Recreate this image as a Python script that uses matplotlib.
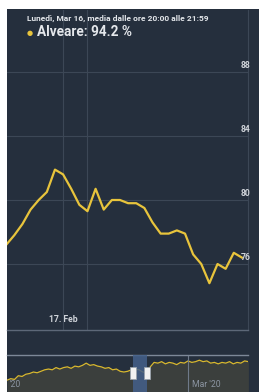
import pandas as pd
import matplotlib
matplotlib.use('Agg')
import matplotlib.pyplot as plt
import matplotlib.dates as mdates
import matplotlib.transforms as mtrans
from matplotlib.patches import Rectangle

# main chart: 2-hour averages, 16 Feb 10:00 -> 18 Feb 20:00
main_start = '2020-02-16 10:00'
main_vals = [77.2, 77.8, 78.5, 79.4, 80.0, 80.5, 81.9, 81.6, 80.7, 79.7,
             79.3, 80.7, 79.4, 80.0, 80.0, 79.8, 79.8, 79.5, 78.6, 77.9,
             77.9, 78.1, 77.9, 76.6, 76.0, 74.8, 76.0, 75.7, 76.7, 76.4]
y_ticks = [76, 80, 84, 88]
x_tick_label = '17. Feb'

# navigator: daily values from 13 Jan
nav_start = '2020-01-13'
nav_vals = [66, 68, 67, 72, 71, 74, 75, 77, 76, 78, 80, 81, 80, 83, 81, 83,
            84, 82, 85, 84, 86, 89, 86, 87, 85, 84, 82, 83, 80, 81, 78, 77,
            78, 80, 81, 80, 77, 76, 84, 90, 89, 91, 88, 90, 89, 87, 90, 89,
            92, 90, 91, 93, 91, 92, 89, 90, 88, 90, 89, 91, 88, 90, 89, 92, 91]

header = 'Lunedì, Mar 16, media dalle ore 20:00 alle 21:59'
series_label = 'Alveare: 94.2 %'

bg = '#252f3d'
grid_c = '#3c4756'
yellow = '#e8c43c'
txt = '#e4e7eb'

plt.rcParams['font.family'] = ['Roboto', 'DejaVu Sans']

main_t = pd.date_range(main_start, periods=len(main_vals), freq='2h')
nav_t = pd.date_range(nav_start, periods=len(nav_vals), freq='D')
feb17 = pd.Timestamp('2020-02-17')

fig = plt.figure(figsize=(2.59, 3.92), dpi=100, facecolor='white')
fig.patches.append(Rectangle((7/259, 0), 1, 383/392, transform=fig.transFigure,
                             facecolor=bg, edgecolor='none', zorder=-10))

# ---- main chart
ax = fig.add_axes([7/259, 62/392, 241/259, 320/392])
ax.set_facecolor(bg)
ax.plot(main_t, main_vals, color=yellow, lw=1.6, solid_joinstyle='round', zorder=3)
ax.set_xlim(feb17 - pd.Timedelta(hours=13.8), feb17 + pd.Timedelta(hours=45.5))
ax.set_ylim(71.875, 91.875)
ax.set_yticks(y_ticks)
ax.set_xticks([feb17])
ax.set_xticklabels([x_tick_label])
ax.tick_params(axis='y', length=0, labelleft=False)
ax.tick_params(axis='x', length=0, pad=-10.8, labelsize=6.2, labelcolor='#cfd3d9')
for lbl in ax.get_xticklabels():
    lbl.set_fontweight('bold')
ax.grid(True, color=grid_c, lw=0.8)
ax.axvline(feb17 + pd.Timedelta(hours=6), color=grid_c, lw=0.8)
for s in ['top', 'left']:
    ax.spines[s].set_visible(False)
ax.spines['bottom'].set_color('#5d6878')
ax.spines['bottom'].set_linewidth(1.0)
ax.spines['right'].set_color(grid_c)
ax.spines['right'].set_linewidth(0.8)

tr = mtrans.blended_transform_factory(ax.transAxes, ax.transData)
for v in y_ticks:
    ax.text(0.9917, v + 0.15, str(v), transform=tr, ha='center', va='bottom',
            fontsize=6.2, fontweight='bold', color='#cfd3d9', zorder=4)

# ---- navigator
nav = fig.add_axes([7/259, 0, 241/259, 37/392])
nav.set_facecolor(bg)
nav.set_xlim(pd.Timestamp(nav_start), pd.Timestamp(nav_start) + pd.Timedelta(days=63.9))
nav.set_ylim(50, 100)
nav.fill_between(nav_t, nav_vals, 50, color='#3b3f3d', lw=0)
nav.plot(nav_t, nav_vals, color='#d9b82e', lw=0.9)
nav.axvline(pd.Timestamp('2020-03-01'), color='#6f7a89', lw=0.8)
sel0 = pd.Timestamp('2020-02-15 10:00')
sel1 = pd.Timestamp('2020-02-19 02:00')
nav.axvspan(sel0, sel1, color='#44608a', alpha=0.85, lw=0, zorder=3)
ntr = mtrans.blended_transform_factory(nav.transData, nav.transAxes)
hw = pd.Timedelta(days=0.8)
for h in [sel0, sel1]:
    nav.add_patch(Rectangle((mdates.date2num(h - hw), 0.35), mdates.date2num(h + hw) - mdates.date2num(h - hw),
                            0.33, transform=ntr, facecolor='#f2f2f2', edgecolor='#9aa3ad',
                            lw=0.6, zorder=4))
nav.set_xticks([])
nav.set_yticks([])
for s in ['bottom', 'left', 'right']:
    nav.spines[s].set_visible(False)
nav.spines['top'].set_color('#7d8898')
nav.spines['top'].set_linewidth(1.0)
nav.text(pd.Timestamp('2020-03-02'), 0.2, "Mar '20", transform=ntr, fontsize=6.2,
         color='#8c95a2', va='center', ha='left')
nav.text(0.01, 0.2, "'20", transform=nav.transAxes, fontsize=6.2,
         color='#8c95a2', va='center', ha='left')

# ---- tooltip header
fig.text(27/259, 1 - 18/392, header, fontsize=6.05, fontweight='bold', color=txt,
         va='center', ha='left')
fig.text(30/259, 1 - 33/392, '●', fontsize=5, color=yellow, va='center', ha='center')
fig.text(37/259, 1 - 32/392, series_label, fontsize=9.8, fontweight='bold', color=txt,
         va='center', ha='left')

fig.savefig('out.png', dpi=100, facecolor='white')
